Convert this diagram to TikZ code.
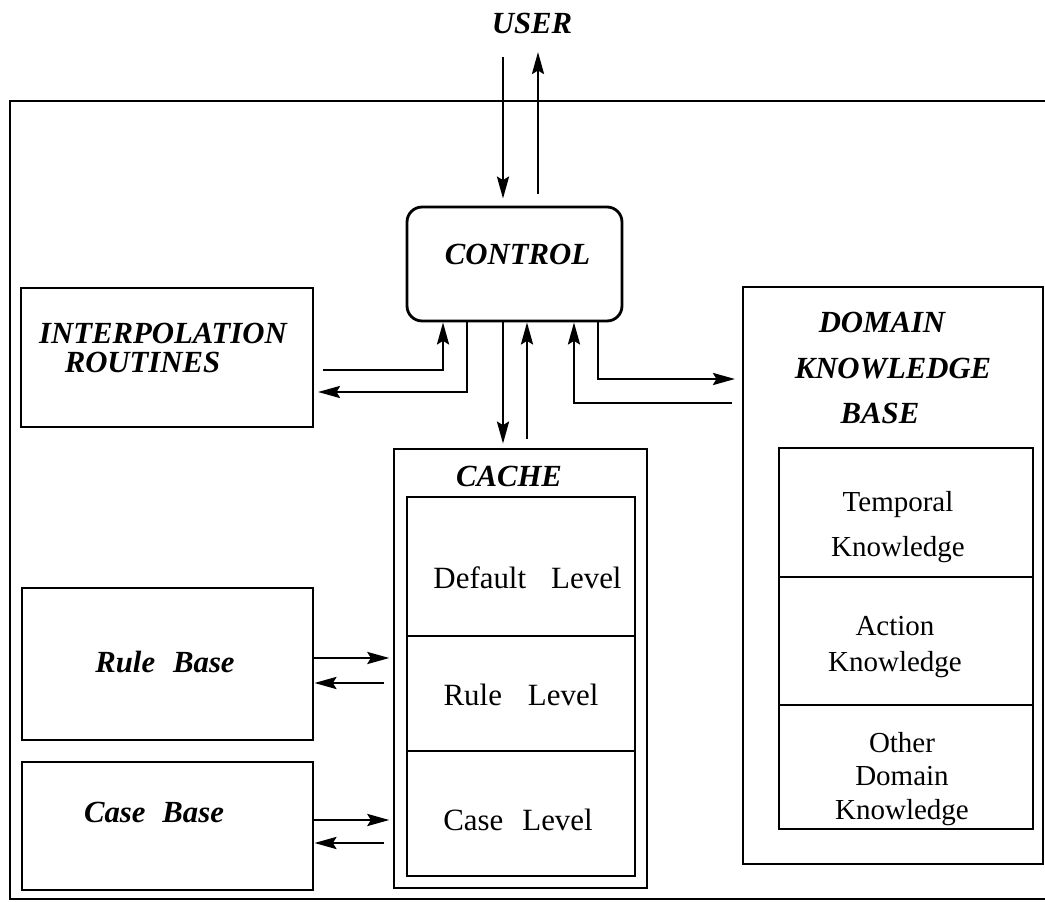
\documentclass[tikz,border=0pt]{standalone}
\usepackage{fontspec}
\setmainfont{Liberation Serif}
\usetikzlibrary{arrows.meta}

\begin{document}
\begin{tikzpicture}[x=0.02cm, y=-0.02cm, line width=1.6pt, box/.style={draw, rectangle, inner sep=0pt}, bi/.style={font=\fontsize{17.5}{20}\selectfont\bfseries\itshape, inner sep=0pt, align=center}, rm/.style={font=\fontsize{16.5}{20}\selectfont, inner sep=0pt, align=center}, arr/.style={-{Stealth[length=4.4mm, width=2.4mm, inset=0.7mm]}}]
	\useasboundingbox (0,0) rectangle (1045,902);
	% outer frame (right side runs off the page)
	\draw (1050,101) -- (10,101) -- (10,899) -- (1050,899);
	\node[bi] (user) at (532,23) {USER};
	\node[box, rounded corners=0.3cm, minimum width=4.3cm, minimum height=2.28cm] (control) at (514.5,264) {};
	\node[bi] (controltext) at (517.5,254) {CONTROL};
	\node[box, minimum width=5.84cm, minimum height=2.78cm] (interp) at (167,357.5) {};
	\node[bi, font=\fontsize{17.5}{17}\selectfont\bfseries\itshape] (interptext) at (163,348) {INTERPOLATION\\ROUTINES\hspace*{0.82cm}};
	\node[box, minimum width=5.82cm, minimum height=3.04cm] (rule) at (167.5,664) {};
	\node[bi] (ruletext) at (165,662) {Rule\hspace{0.36cm}Base};
	\node[box, minimum width=5.82cm, minimum height=2.56cm] (case) at (167.5,826) {};
	\node[bi] (casetext) at (154,812) {Case\hspace{0.34cm}Base};
	% cache and its levels
	\node[box, minimum width=5.06cm, minimum height=8.78cm] (cache) at (520.5,668.5) {};
	\node[bi] (cachetext) at (509,476) {CACHE};
	\node[box, minimum width=4.56cm, minimum height=2.78cm] (deflev) at (521,566.5) {};
	\node[box, minimum width=4.56cm, minimum height=2.3cm] (rulelev) at (521,693.5) {};
	\node[box, minimum width=4.56cm, minimum height=2.5cm] (caselev) at (521,813.5) {};
	\node[rm, font=\fontsize{17.6}{20}\selectfont] (deflevtext) at (527.5,578) {Default\hspace{0.5cm}Level};
	\node[rm, font=\fontsize{17.6}{20}\selectfont] (rulelevtext) at (521,695) {Rule\hspace{0.52cm}Level};
	\node[rm, font=\fontsize{17.6}{20}\selectfont] (caselevtext) at (518,820) {Case\hspace{0.38cm}Level};
	% domain knowledge base
	\node[box, minimum width=6cm, minimum height=11.54cm] (domain) at (893,575.5) {};
	\node[bi, font=\fontsize{17.5}{26}\selectfont\bfseries\itshape] (domaintext) at (893,368) {DOMAIN\hspace*{0.44cm}\\KNOWLEDGE\\BASE\hspace*{0.52cm}};
	\node[box, minimum width=5.08cm, minimum height=2.58cm] (temporal) at (906,512.5) {};
	\node[box, minimum width=5.08cm, minimum height=2.56cm] (action) at (906,641) {};
	\node[box, minimum width=5.08cm, minimum height=2.48cm] (otherdom) at (906,767) {};
	\node[rm, font=\fontsize{16.5}{25.6}\selectfont] (temporaltext) at (898,527) {Temporal\\Knowledge};
	\node[rm, font=\fontsize{16.5}{20}\selectfont] (actiontext) at (895,647) {Action\\Knowledge};
	\node[rm, font=\fontsize{16.5}{19.3}\selectfont] (otherdomtext) at (902,779) {Other\\Domain\\Knowledge};
	% connectors
	\coordinate (ua) at (503,57);
	\coordinate (ub) at (538,52);
	\draw[arr, shorten >=0.14cm] (ua) -- (ua |- control.north);
	\draw[arr, shorten <=0.24cm] (ub |- control.north) -- (ub);
	\path ([xshift=-1.43cm]control.south) coordinate (c1) ([xshift=-0.95cm]control.south) coordinate (c2) ([xshift=-0.23cm]control.south) coordinate (c3) ([xshift=0.25cm]control.south) coordinate (c4) ([xshift=1.19cm]control.south) coordinate (c5) ([xshift=1.67cm]control.south) coordinate (c6);
	\coordinate (ia) at (323,370);
	\coordinate (ib) at (318,392);
	\coordinate (da) at (732,403);
	\coordinate (db) at (735,379);
	\draw[arr] (ia) -| (c1);
	\draw[arr] (c2) |- (ib);
	\draw[arr, shorten >=0.08cm] (c3) -- (c3 |- cache.north);
	\draw[arr, shorten <=0.18cm] (c4 |- cache.north) -- (c4);
	\draw[arr] (da) -| (c5);
	\draw[arr] (c6) |- (db);
	\foreach \n/\d in {rule/-0.38, case/-0.34} {
		\draw[arr] ([yshift=0.12cm]\n.east) -- ++(1.5cm,0);
		\draw[arr] ([yshift=\d cm]\n.east) ++(1.4cm,0) -- ++(-1.4cm,0);
	}
\end{tikzpicture}
\end{document}
